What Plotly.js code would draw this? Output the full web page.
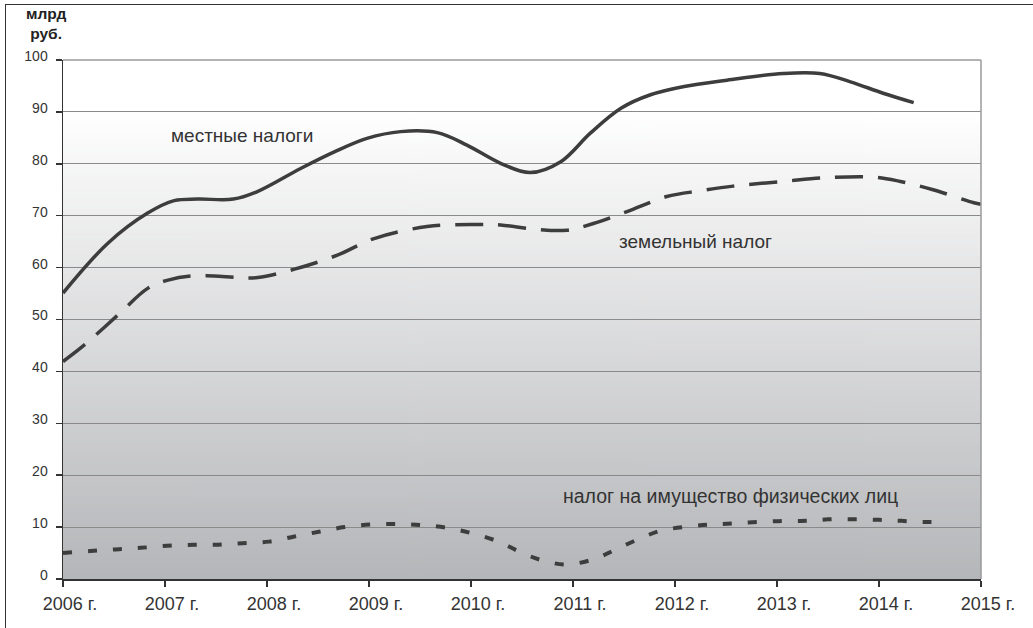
<!DOCTYPE html>
<html>
<head>
<meta charset="utf-8">
<script src="https://cdn.plot.ly/plotly-3.0.1.min.js"></script>
<style>
  html, body { margin: 0; padding: 0; background: #fff; width: 1033px; height: 628px; overflow: hidden; }
  #frame { position: absolute; left: 5px; top: 4px; width: 1028px; height: 624px;
           border-left: 1px solid #333; border-top: 1px solid #333; }
  #chart { width: 1027px; height: 623px; }
</style>
</head>
<body>
<div id="frame"><div id="chart"></div></div>
<script>
// ---- data ----
const tickYears  = [2006, 2007, 2008, 2009, 2010, 2011, 2012, 2013, 2014, 2015];
const tickLabels = ['2006 г.', '2007 г.', '2008 г.', '2009 г.', '2010 г.', '2011 г.', '2012 г.', '2013 г.', '2014 г.', '2015 г.'];

// местные налоги
const localX = [2006.0, 2006.44, 2006.83, 2007.09, 2007.32, 2007.67, 2007.9, 2008.33, 2008.66, 2008.98,
                2009.31, 2009.67, 2009.96, 2010.29, 2010.58, 2010.88, 2011.17, 2011.47, 2011.76, 2012.09,
                2012.51, 2013.06, 2013.42, 2013.72, 2014.04, 2014.34];
const localY = [55.1, 64.7, 70.5, 72.9, 73.2, 73.2, 74.6, 79.1, 82.3, 84.9,
                86.2, 86.0, 83.6, 80.1, 78.3, 80.4, 85.9, 90.7, 93.3, 94.9,
                96.1, 97.4, 97.4, 95.8, 93.6, 91.8];

// земельный налог
const landX = [2006.0, 2006.21, 2006.54, 2006.83, 2007.03, 2007.25, 2007.48, 2007.71, 2007.91, 2008.27, 2008.69,
               2009.05, 2009.57, 2010.06, 2010.29, 2010.62, 2010.94, 2011.2, 2011.53, 2011.92, 2012.25,
               2012.57, 2013.06, 2013.55, 2013.98, 2014.21, 2014.53, 2014.93, 2015.0];
const landY = [41.9, 45.1, 50.9, 56.0, 57.6, 58.4, 58.4, 58.1, 58.1, 59.7, 62.4,
               65.6, 67.9, 68.3, 68.2, 67.4, 67.2, 68.5, 70.8, 73.7, 74.8,
               75.7, 76.6, 77.4, 77.4, 76.6, 75.0, 72.5, 72.2];

// налог на имущество физических лиц
const propX = [2006.0, 2006.27, 2006.52, 2006.76, 2007.02, 2007.28, 2007.52, 2007.76, 2008.02, 2008.27, 2008.51,
               2008.76, 2009.02, 2009.28, 2009.51, 2009.75, 2010.01, 2010.27, 2010.47, 2010.68, 2010.93,
               2011.2, 2011.4, 2011.61, 2011.86, 2012.13, 2012.36, 2012.57, 2012.82, 2013.06, 2013.29,
               2013.5, 2013.75, 2014.0, 2014.22, 2014.44, 2014.65];
const propY = [5.0, 5.4, 5.7, 6.0, 6.4, 6.6, 6.6, 6.9, 7.2, 8.2, 9.1,
               10.0, 10.5, 10.6, 10.4, 9.9, 8.8, 7.2, 5.3, 3.7, 2.8,
               3.8, 5.5, 7.4, 9.3, 10.1, 10.5, 10.7, 11.0, 11.2, 11.2,
               11.5, 11.5, 11.4, 11.2, 11.0, 11.0];

const seriesNames = ['местные налоги', 'земельный налог', 'налог на имущество физических лиц'];
const yTicks = [0, 10, 20, 30, 40, 50, 60, 70, 80, 90, 100];
const yUnit = 'млрд<br>руб.';

// ---- background gradient image ----
const cv = document.createElement('canvas');
cv.width = 4; cv.height = 256;
const ctx = cv.getContext('2d');
const g = ctx.createLinearGradient(0, 0, 0, 256);
g.addColorStop(0, '#ffffff');
g.addColorStop(0.1, '#ffffff');
g.addColorStop(1, '#b5b6b9');
ctx.fillStyle = g;
ctx.fillRect(0, 0, 4, 256);
const bgURL = cv.toDataURL('image/png');

const FONT = '"Liberation Sans", Arial, sans-serif';
const lineCol = '#3d3d3d';

const traces = [
  { x: localX, y: localY, name: seriesNames[0], mode: 'lines', type: 'scatter',
    line: { color: lineCol, width: 3.5, shape: 'spline', smoothing: 1 } },
  { x: landX, y: landY, name: seriesNames[1], mode: 'lines', type: 'scatter',
    line: { color: lineCol, width: 3.5, shape: 'spline', smoothing: 1, dash: '28px,15px' } },
  { x: propX, y: propY, name: seriesNames[2], mode: 'lines', type: 'scatter',
    line: { color: lineCol, width: 4, shape: 'spline', smoothing: 1, dash: '9px,16px' } }
];

const layout = {
  width: 1027, height: 623,
  margin: { l: 57, r: 52, t: 55, b: 49 },
  paper_bgcolor: '#ffffff',
  plot_bgcolor: 'rgba(0,0,0,0)',
  showlegend: false,
  font: { family: FONT, color: '#333333' },
  xaxis: {
    range: [2006, 2015], tickmode: 'array', tickvals: tickYears, ticktext: tickLabels,
    showgrid: false, zeroline: false, showline: true, linecolor: '#333', linewidth: 1.5,
    ticks: 'outside', ticklen: 6, tickcolor: '#333', tickwidth: 1.5,
    tickfont: { size: 18, family: FONT, color: '#333' }, ticklabelshift: 7, ticklabelstandoff: 2
  },
  yaxis: {
    range: [0, 100], tickmode: 'array', tickvals: yTicks,
    showgrid: true, gridcolor: '#8a8a8a', gridwidth: 1, zeroline: false,
    showline: true, linecolor: '#333', linewidth: 1.5,
    ticks: 'outside', ticklen: 6, tickcolor: '#333', tickwidth: 1.5,
    tickfont: { size: 14, family: FONT, color: '#333' }, ticklabelshift: -4, ticklabelstandoff: 5
  },
  images: [{ source: bgURL, xref: 'paper', yref: 'paper', x: 0, y: 1, sizex: 1, sizey: 1,
             xanchor: 'left', yanchor: 'top', sizing: 'stretch', layer: 'below' }],
  shapes: [
    { type: 'line', xref: 'paper', yref: 'paper', x0: 0, x1: 1, y0: 1, y1: 1, line: { color: '#9a9a9a', width: 1.5 } },
    { type: 'line', xref: 'paper', yref: 'paper', x0: 1, x1: 1, y0: 0, y1: 1, line: { color: '#9a9a9a', width: 1.5 } }
  ],
  annotations: [
    { text: seriesNames[0], x: 2007.75, y: 85.5, xref: 'x', yref: 'y', showarrow: false,
      font: { size: 19, family: FONT, color: '#333' } },
    { text: seriesNames[1], x: 2012.2, y: 65.1, xref: 'x', yref: 'y', showarrow: false,
      font: { size: 19, family: FONT, color: '#333' } },
    { text: seriesNames[2], x: 2012.54, y: 16.0, xref: 'x', yref: 'y', showarrow: false,
      font: { size: 19.5, family: FONT, color: '#333' } },
    { text: '<b>' + yUnit + '</b>', xref: 'paper', yref: 'paper', x: -0.0185, y: 1.11,
      xanchor: 'center', yanchor: 'top', showarrow: false, align: 'center',
      font: { size: 15.5, family: FONT, color: '#222' } }
  ]
};

Plotly.newPlot('chart', traces, layout, { staticPlot: true, displayModeBar: false });
</script>
</body>
</html>
